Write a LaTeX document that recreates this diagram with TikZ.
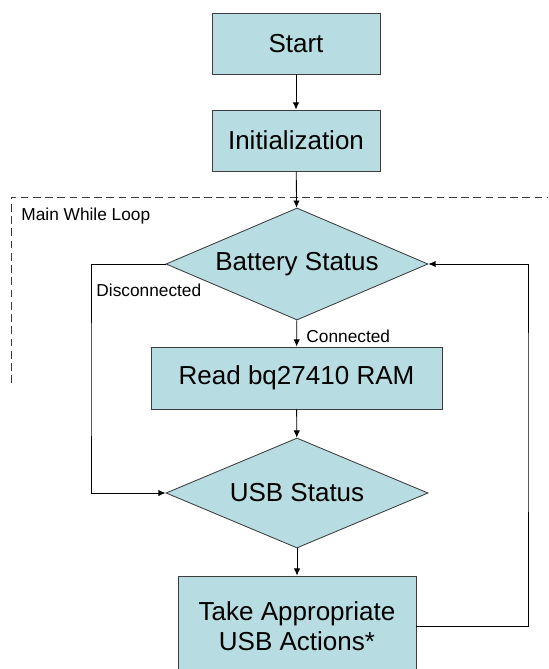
\documentclass[tikz,border=0pt]{standalone}
\usepackage{fontspec}
\setmainfont{Liberation Sans}
\usetikzlibrary{arrows.meta, shapes.geometric}

\definecolor{boxfill}{RGB}{183,221,226}
\definecolor{boxline}{RGB}{60,60,60}

\begin{document}
\begin{tikzpicture}[
            x = 0.025cm, y = -0.025cm, % one unit is one pixel of the sketch
            > = {Latex[length=1.8mm, width=1.6mm]}, % arrow head style
            line width = 0.6pt, % line style
            every node/.style = {font = \fontsize{18.5}{21}\selectfont}
        ]

        \tikzstyle{process}=[
            draw = boxline,
            fill = boxfill,
            align = center,
            inner sep = 0pt
        ]
        \tikzstyle{decision}=[
            diamond,
            aspect = 2.34,
            draw = boxline,
            fill = boxfill,
            inner sep = 0pt,
            minimum width = 6.55cm,
            minimum height = 2.8cm
        ]
        \tikzstyle{note}=[
            font = \fontsize{12.3}{14}\selectfont,
            inner sep = 0pt,
            anchor = west
        ]

        \useasboundingbox (0,0) rectangle (548,669);

        % the loop frame
        \coordinate (loopBL) at (11,383);
        \coordinate (loopTR) at (548,197);
        \draw[dash pattern = on 5.5pt off 3.2pt, boxline] (loopBL) |- (loopTR);
        \node[note] (looplabel) at (21,216) {Main While Loop};

        \node[process, minimum width = 4.2cm, minimum height = 1.525cm] (start) at (296,43.5) {Start};
        \node[process, minimum width = 4.2cm, minimum height = 1.525cm] (init) at (296,140.5) {Initialization};
        \node[decision] (battery) at (297,264) {Battery Status};
        \node[process, minimum width = 7.275cm, minimum height = 1.55cm] (read) at (296.5,378) {Read bq27410 RAM};
        \node[decision, minimum height = 2.75cm] (usb) at (297,493) {USB Status};
        \node[process, minimum width = 5.95cm, minimum height = 2.5cm] (take) at (297,626) {Take Appropriate\\USB Actions*};

        \coordinate (bypass) at (91,380);
        \coordinate (loopback) at (528,400);

        \draw[->] (start) -- (init);
        \draw[->] (init) -- (battery);
        \draw[->] (battery) -- (read);
        \draw[->] (read) -- (usb);
        \draw[->] (usb) -- (take);
        \draw[->] (battery.west) -| (bypass) |- (usb.west);
        \draw[->] (take.east) -| (loopback) |- (battery.east);

        \node[note] (connlabel) at (306,336) {Connected};
        \node[note] (disclabel) at (96,290) {Disconnected};

    \end{tikzpicture}
\end{document}
